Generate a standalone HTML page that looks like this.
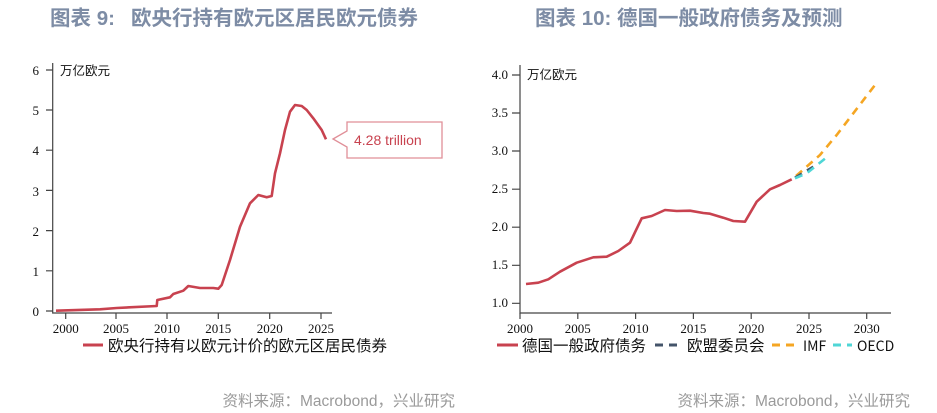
<!DOCTYPE html>
<html><head><meta charset="utf-8"><style>
body{margin:0;background:#fff;}
svg{display:block;font-family:"Liberation Serif","Noto Serif CJK SC",serif;}
.t{font-family:"Liberation Sans","Noto Sans CJK SC",sans-serif;font-weight:bold;font-size:20.5px;fill:#7d8ca5}
.s{font-family:"Liberation Sans","Noto Sans CJK SC",sans-serif;font-size:15.5px;fill:#9a9a9a}
.k{font-size:13px;fill:#111}
.c{font-family:"Noto Sans CJK SC",sans-serif;font-size:15.5px;fill:#111}
</style></head><body>
<svg width="937" height="413" viewBox="0 0 937 413">
<text class="t" x="50" y="25">图表 9:  <tspan x="131">欧央行持有欧元区居民欧元债券</tspan></text>
<text class="t" x="535" y="25">图表 10: 德国一般政府债务及预测</text>
<text class="s" x="455" y="406" text-anchor="end">资料来源：Macrobond，兴业研究</text>
<text class="s" x="910" y="406" text-anchor="end">资料来源：Macrobond，兴业研究</text>

<!-- left chart -->
<g stroke="#444" stroke-width="1.2" fill="none">
<path d="M52.7 63V313H332"/>
<path d="M46 311H52.7M46 270.8H52.7M46 230.6H52.7M46 190.4H52.7M46 150.2H52.7M46 110H52.7M46 70H52.7"/>
<path d="M65.7 313V319M116 313V319M167 313V319M218.3 313V319M269.7 313V319M321 313V319"/>
</g>
<g class="k" text-anchor="end">
<text x="39" y="316">0</text><text x="39" y="276">1</text><text x="39" y="236">2</text><text x="39" y="196">3</text><text x="39" y="155">4</text><text x="39" y="115">5</text><text x="39" y="75">6</text>
</g>
<g class="k" text-anchor="middle">
<text x="65.7" y="333">2000</text><text x="116" y="333">2005</text><text x="167" y="333">2010</text><text x="218.3" y="333">2015</text><text x="269.7" y="333">2020</text><text x="321" y="333">2025</text>
</g>
<text class="c" x="60" y="75" style="font-size:12.5px">万亿欧元</text>
<polyline fill="none" stroke="#c8424f" stroke-width="2.6" stroke-linejoin="round" points="56,310.7 100,309.3 116.7,308 156.7,306 157.3,300 170,297.3 173.3,294 183.3,290.7 188.3,286 200,288 213.3,288 218.3,288.7 221.7,285 230,260 240,226.7 250,203.3 258.3,195 266.7,197.3 271.7,196 275,173.3 280,153.3 285,130 290,111.7 295,105 301.7,106 306.7,110 313.3,118.3 321.7,130 326,139.3"/>
<path d="M333 139L347 131V122H442V158H347V147Z" fill="#fff" stroke="#e08f98" stroke-width="1.3"/>
<text x="354" y="145" style="font-family:'Liberation Sans',sans-serif;font-size:14px;fill:#c8424f">4.28 trillion</text>
<line x1="83" y1="345" x2="103" y2="345" stroke="#c8424f" stroke-width="3"/>
<text class="c" x="108" y="351">欧央行持有以欧元计价的欧元区居民债券</text>

<!-- right chart -->
<g stroke="#444" stroke-width="1.2" fill="none">
<path d="M520 65V313H891"/>
<path d="M512 75H520M512 113H520M512 151H520M512 189.2H520M512 227.2H520M512 265.3H520M512 303.3H520"/>
<path d="M520 313V319M577.8 313V319M635.6 313V319M693.4 313V319M751.2 313V319M809 313V319M866.7 313V319"/>
</g>
<g class="k" text-anchor="end">
<text x="508" y="79">4.0</text><text x="508" y="117">3.5</text><text x="508" y="155">3.0</text><text x="508" y="193">2.5</text><text x="508" y="231">2.0</text><text x="508" y="269">1.5</text><text x="508" y="307">1.0</text>
</g>
<g class="k" text-anchor="middle">
<text x="520" y="333">2000</text><text x="577.8" y="333">2005</text><text x="635.6" y="333">2010</text><text x="693.4" y="333">2015</text><text x="751.2" y="333">2020</text><text x="809" y="333">2025</text><text x="866.7" y="333">2030</text>
</g>
<text class="c" x="527" y="79" style="font-size:12.5px">万亿欧元</text>
<polyline fill="none" stroke="#c8424f" stroke-width="2.6" stroke-linejoin="round" points="526,284 538.3,282.7 548.3,279.3 560,271.7 576.7,262.7 593.3,257.3 606.7,256.7 618.3,251 630,242.7 641.7,218.3 651.7,216 665,210 676.7,211 690,210.7 703.3,213 710,213.7 723.3,217.7 733.3,221 745,221.7 756.7,201.7 770,189.3 780,185 791.7,179.3"/>
<polyline fill="none" stroke="#f5a623" stroke-width="2.6" stroke-dasharray="8,6" points="796,176 820,155 836.7,135 853.3,113.3 875,85"/>
<polyline fill="none" stroke="#44546a" stroke-width="2.6" stroke-dasharray="8,6" points="795,177.7 813.3,166.7"/>
<polyline fill="none" stroke="#4fd6d6" stroke-width="2.6" stroke-dasharray="8,6" points="795,178.3 806.7,173.3 828.3,156"/>
<g stroke-width="3">
<line x1="497" y1="345" x2="518" y2="345" stroke="#c8424f"/>
<line x1="655" y1="345" x2="682" y2="345" stroke="#44546a" stroke-dasharray="8,6"/>
<line x1="772" y1="345" x2="798" y2="345" stroke="#f5a623" stroke-dasharray="8,6"/>
<line x1="833" y1="345" x2="852" y2="345" stroke="#4fd6d6" stroke-dasharray="8,6"/>
</g>
<text class="c" x="522" y="351">德国一般政府债务</text>
<text class="c" x="687" y="351">欧盟委员会</text>
<text class="c" x="803" y="351" style="font-size:14px">IMF</text>
<text class="c" x="857" y="351" style="font-size:14px">OECD</text>
</svg>
</body></html>
